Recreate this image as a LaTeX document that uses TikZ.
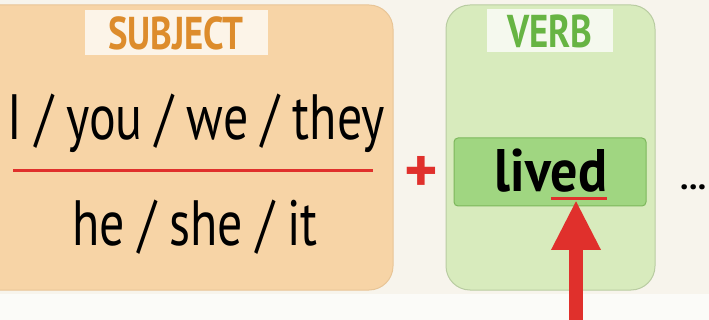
\documentclass[tikz,border=0pt]{standalone}
\usepackage{fontspec}
\setmainfont{PT Sans}
\usetikzlibrary{arrows.meta}
\definecolor{cream}{HTML}{F7F4EC}
\definecolor{stripwhite}{HTML}{FBFBF8}
\definecolor{peach}{HTML}{F7D4A6}
\definecolor{peachedge}{HTML}{E8C597}
\definecolor{tagorange}{HTML}{DD8C2C}
\definecolor{lightgreen}{HTML}{D8EBBD}
\definecolor{greenedge}{HTML}{B9CCA2}
\definecolor{livedgreen}{HTML}{A0D681}
\definecolor{liveddark}{HTML}{7DB75C}
\definecolor{taggreen}{HTML}{67B443}
\definecolor{markred}{HTML}{E0302C}
\tikzstyle{groupbox} = [rectangle, rounded corners=24pt, line width=1pt]
\tikzstyle{tag} = [rectangle, fill=white, fill opacity=0.75, text opacity=1, inner sep=0pt, font=\bfseries\fontsize{46}{46}\selectfont]
\tikzstyle{pronoun} = [anchor=base, inner sep=0pt, font=\fontsize{64}{64}\selectfont]
\tikzstyle{arrow} = [line width=14pt, draw=markred, -{Triangle[width=46pt,length=50pt]}]

\begin{document}
\begin{tikzpicture}[x=1pt, y=-1pt]
\useasboundingbox (0,0) rectangle (709,320);
\fill[cream] (0,0) rectangle (709,320);
\fill[stripwhite] (0,294) rectangle (709,320);

% subject column
\draw[groupbox, fill=peach, draw=peachedge] (-30,5) rectangle (393,290);
\fill[tag] (85,10) rectangle (268,55);
\node (subject) [tag, fill=none, text=tagorange] at (176,33) {\scalebox{0.8}[1]{SUBJECT}};
\node (plural) [pronoun] at (196,140) {\scalebox{0.78}[1]{I / you / we / they}};
\node (single) [pronoun] at (195,246) {\scalebox{0.78}[1]{he / she / it}};
\draw[markred, line width=3pt] (13,171) -- (373,171);

\node (plus) [text=markred, font=\bfseries\fontsize{64}{64}\selectfont] at (421,174) {+};

% verb column
\draw[groupbox, fill=lightgreen, draw=greenedge] (446,5) rectangle (655,290);
\fill[tag] (487,9) rectangle (613,52);
\node (verb) [tag, fill=none, text=taggreen] at (550,31) {\scalebox{0.8}[1]{VERB}};
\draw[rounded corners=4pt, fill=livedgreen, draw=liveddark, line width=1pt] (454,138) rectangle (646,206);
\node (lived) [pronoun, font=\bfseries\fontsize{60}{60}\selectfont] at (551,192) {\scalebox{0.9}[1]{lived}};
\coordinate (edstart) at (551,199);
\coordinate (edend) at (607,199);
\draw[markred, line width=3pt] (edstart) -- (edend);

\node (dots) [anchor=base west, inner sep=0pt, font=\bfseries\fontsize{34}{34}\selectfont] at (680,190) {...};

% arrow pointing at the ending
\coordinate (foot) at (576,330);
\coordinate (tip) at (576,200);
\draw [arrow] (foot) -- (tip);

\end{tikzpicture}
\end{document}
